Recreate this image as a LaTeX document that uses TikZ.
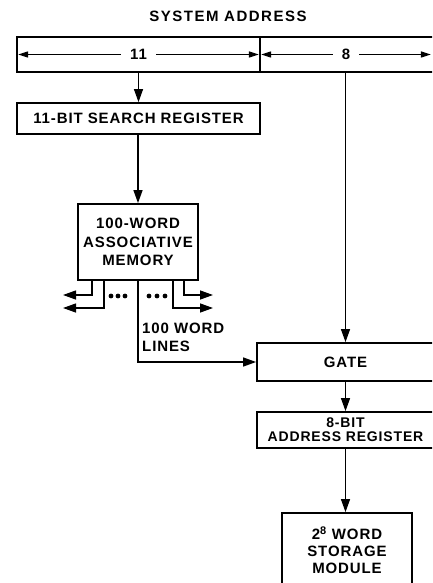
\documentclass[tikz,border=0pt]{standalone}
\usepackage{fontspec}
\newfontfamily\lblfont[LetterSpace=6]{Liberation Sans Bold}
\newfontfamily\ttlfont[LetterSpace=10]{Liberation Sans Bold}
\usetikzlibrary{arrows.meta}
\begin{document}
\begin{tikzpicture}[x=1pt,y=-1pt,
  boxline/.style={line width=1.8pt},
  blk/.style={draw, boxline, inner sep=0pt, align=center,
    font=\lblfont\fontsize{15}{18.5}\selectfont},
  conn/.style={line width=1.3pt},
  arr/.style={conn, -{Triangle[length=13pt,width=9pt]}},
  dimarr/.style={conn, {Triangle[length=10pt,width=6pt]}-{Triangle[length=10pt,width=6pt]}},
  dimlbl/.style={fill=white, inner xsep=9pt, inner ysep=1pt, font=\lblfont\fontsize{15}{18}\selectfont},
  txt/.style={font=\lblfont\fontsize{15}{18}\selectfont, inner sep=0pt}
]
\useasboundingbox (0,0) rectangle (432,583);
\clip (0,0) rectangle (432,583);
\fill[white] (0,0) rectangle (432,583);

% title
\node[font=\ttlfont\fontsize{15}{18}\selectfont] (title) at (228,16) {SYSTEM ADDRESS};

% system address fields
\node[blk, minimum width=243pt, minimum height=35pt] (f11) at (138.5,54.5) {};
\node[blk, minimum width=180pt, minimum height=35pt] (f8) at (350,54.5) {};
\draw[dimarr] ([xshift=2pt]f11.west) -- node[dimlbl] (n11) {11} ([xshift=-2pt]f11.east);
\draw[dimarr] ([xshift=2pt]f8.west) -- node[dimlbl] (n8) {8} ([xshift=-10pt]f8.east);

% search register
\node[blk, minimum width=243pt, minimum height=31pt] (search) at (138.5,118.5) {11-BIT SEARCH REGISTER};
\draw[arr] (f11.south) -- (search.north);

% associative memory
\node[blk, minimum width=120pt, minimum height=76pt] (memory) at (138,242)
  {100-WORD\\ASSOCIATIVE\\MEMORY};
\draw[arr] (search.south -| memory.north) -- (memory.north);

% word lines
\coordinate (c1) at (92,295);  \coordinate (e1) at (63,295);
\coordinate (c2) at (104,308); \coordinate (e2) at (63,308);
\coordinate (c3) at (173,308); \coordinate (e3) at (213,308);
\coordinate (c4) at (184,295); \coordinate (e4) at (213,295);
\draw[arr] (memory.south -| c1) -- (c1) -- (e1);
\draw[arr] (memory.south -| c2) -- (c2) -- (e2);
\draw[arr] (memory.south -| c3) -- (c3) -- (e3);
\draw[arr] (memory.south -| c4) -- (c4) -- (e4);
\foreach \x in {111,118,125,149,157,165} \fill (\x,296) circle (2.4pt);

\node[txt, anchor=west, align=left] (wl) at (142,337) {100 WORD\\LINES};

% gate
\node[blk, minimum width=177pt, minimum height=38pt] (gate) at (345.5,362) {GATE};
\draw[arr] (memory.south) -- (memory.south |- gate.west) -- (gate.west);
\draw[arr] (gate.north |- f8.south) -- (gate.north);

% address register
\node[blk, minimum width=177pt, minimum height=36pt,
  font=\lblfont\fontsize{14}{14}\selectfont] (addr) at (345.5,430) {8-BIT\\ADDRESS REGISTER};
\draw[arr] (gate.south) -- (addr.north);

% storage module
\node[blk, minimum width=130pt, minimum height=74pt,
  font=\lblfont\fontsize{15}{17}\selectfont] (store) at (347,550)
  {2\textsuperscript{\fontsize{11}{11}\selectfont 8} WORD\\STORAGE\\MODULE};
\draw[arr] (addr.south) -- (addr.south |- store.north);
\end{tikzpicture}
\end{document}
